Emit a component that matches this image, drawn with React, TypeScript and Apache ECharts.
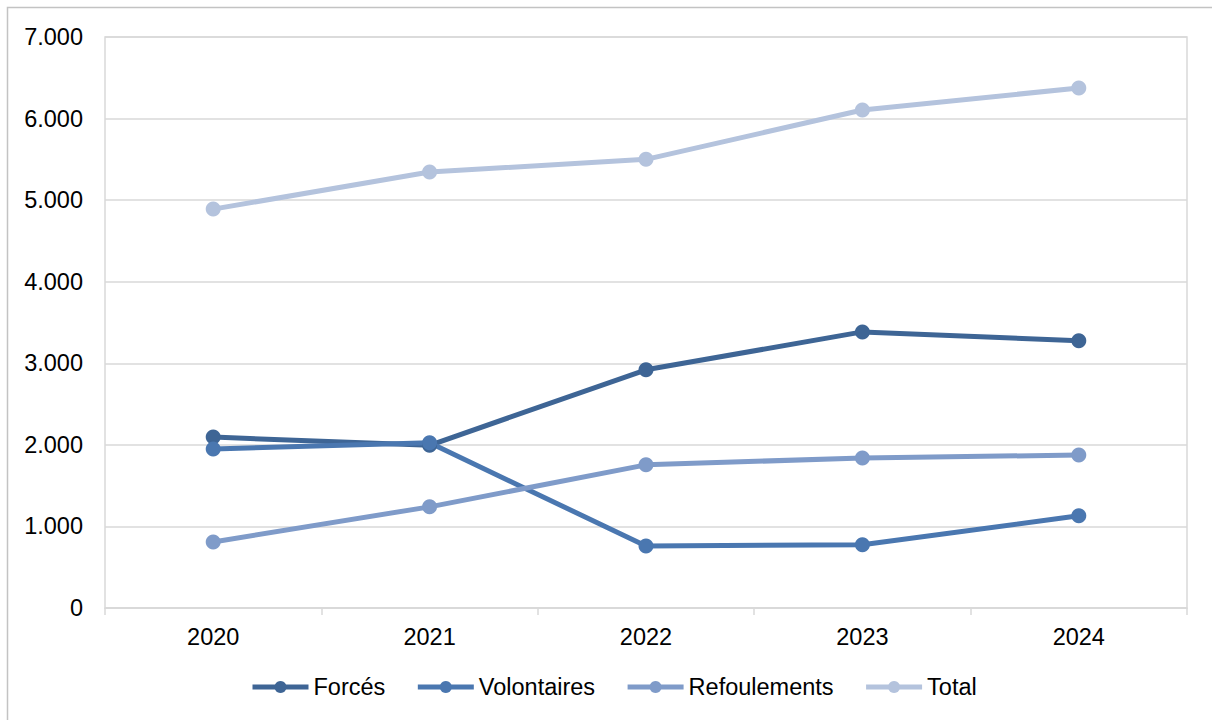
import React, { useEffect, useRef } from "react";
import * as echarts from "echarts";

const categories = ["2020", "2021", "2022", "2023", "2024"];
const forces = [2095, 1995, 2920, 3385, 3275];
const volontaires = [1950, 2025, 760, 775, 1130];
const refoulements = [810, 1240, 1755, 1840, 1875];
const total = [4890, 5345, 5500, 6105, 6375];

const seriesNames = ["Forcés", "Volontaires", "Refoulements", "Total"];
const seriesData = [forces, volontaires, refoulements, total];
const colors = ["#3e6595", "#4a77b0", "#7f9bc9", "#b4c3dd"];

const fmt = (v: number) =>
  String(v).replace(/\B(?=(\d{3})+(?!\d))/g, ".");

export default function App() {
  const ref = useRef<HTMLDivElement>(null);
  useEffect(() => {
    document.body.style.margin = "0";
    const chart = echarts.init(ref.current!, null, { renderer: "svg" });
    const font = "'Liberation Sans', Arial, sans-serif";
    chart.setOption({
      animation: false,
      textStyle: { fontFamily: font },
      color: colors,
      graphic: [
        {
          type: "rect",
          shape: { x: 7.5, y: 7.5, width: 1230, height: 740 },
          style: { fill: "none", stroke: "#c3c3c3", lineWidth: 1.5 },
          silent: true,
        },
      ],
      grid: {
        left: 105,
        right: 25,
        top: 37,
        bottom: 112,
        show: true,
        borderColor: "#d9d9d9",
        borderWidth: 1.5,
      },
      legend: {
        bottom: 16,
        left: 245,
        itemWidth: 56,
        itemHeight: 15,
        itemGap: 30,
        lineStyle: { width: 5 },
        textStyle: { fontSize: 23.5, color: "#000", fontFamily: font },
        data: seriesNames,
      },
      xAxis: {
        type: "category",
        data: categories,
        boundaryGap: true,
        axisLine: { lineStyle: { color: "#d9d9d9", width: 1.5 } },
        axisTick: { show: true, length: 7, lineStyle: { color: "#d9d9d9", width: 1.5 } },
        axisLabel: { fontSize: 23.5, color: "#000", margin: 17, fontFamily: font },
      },
      yAxis: {
        type: "value",
        min: 0,
        max: 7000,
        interval: 1000,
        axisLine: { show: false },
        axisTick: { show: false },
        splitLine: { lineStyle: { color: "#d9d9d9", width: 1.5 } },
        axisLabel: {
          fontSize: 23.5,
          color: "#000",
          margin: 22,
          fontFamily: font,
          formatter: (v: number) => fmt(v),
        },
      },
      series: seriesNames.map((name, i) => ({
        name,
        type: "line",
        data: seriesData[i],
        symbol: "circle",
        symbolSize: 15,
        lineStyle: { width: 5, color: colors[i] },
        itemStyle: { color: colors[i] },
      })),
    });
    return () => chart.dispose();
  }, []);
  return <div ref={ref} style={{ width: 1212, height: 720 }} />;
}
